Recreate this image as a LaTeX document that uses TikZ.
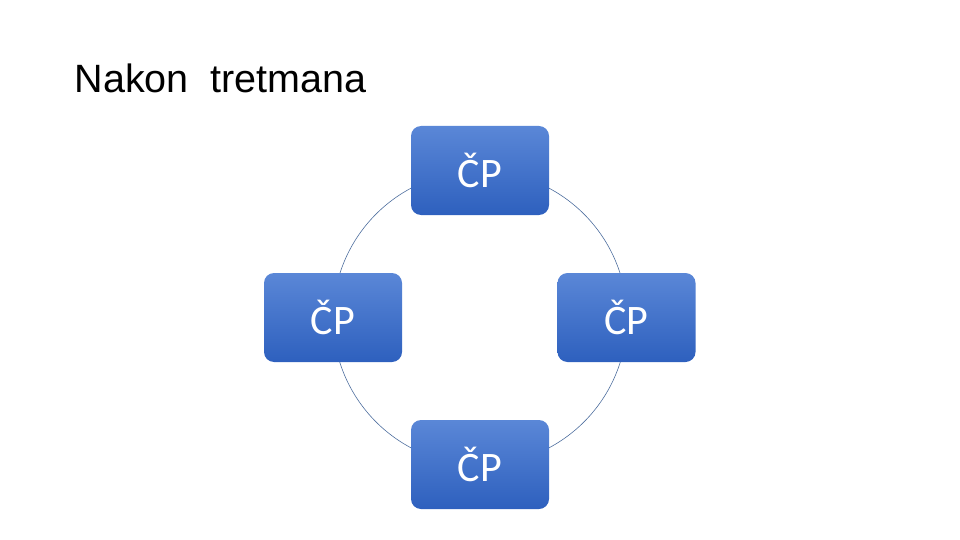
\documentclass[tikz,border=0pt]{standalone}
\usepackage{fontspec}
\usepackage{xcolor}
\usepackage{tikz}
\usetikzlibrary{shapes,positioning,calc}
\newfontfamily\titlefont{Liberation Sans}
\newfontfamily\boxfont{Carlito}
\definecolor{cptop}{HTML}{5A87D7}
\definecolor{cpbottom}{HTML}{2E60BE}
\definecolor{ringline}{HTML}{4F6F9F}

\begin{document}
\begin{tikzpicture}[
    x=1pt, y=-1pt,
    cpbox/.style={rectangle, rounded corners=10pt, top color=cptop, bottom color=cpbottom,
                  draw=none, text=white, minimum width=138pt, minimum height=89pt,
                  font=\boxfont\fontsize{42}{48}\selectfont},
    ring/.style={draw=ringline, line width=0.6pt}
]
    \useasboundingbox (0,0) rectangle (960,540);
    \node[anchor=base west, font=\titlefont\fontsize{39.5}{46}\selectfont] (title) at (71,93) {Nakon\ \ tretmana};

    \coordinate (hub) at (480,318);
    \draw[ring] (hub) circle[radius=147];

    \node[cpbox] (top) at (480,170.5) {ČP};
    \node[cpbox] (left) at (333,317.5) {ČP};
    \node[cpbox] (right) at (626.5,317.5) {ČP};
    \node[cpbox] (bottom) at (480,464.5) {ČP};
\end{tikzpicture}
\end{document}
